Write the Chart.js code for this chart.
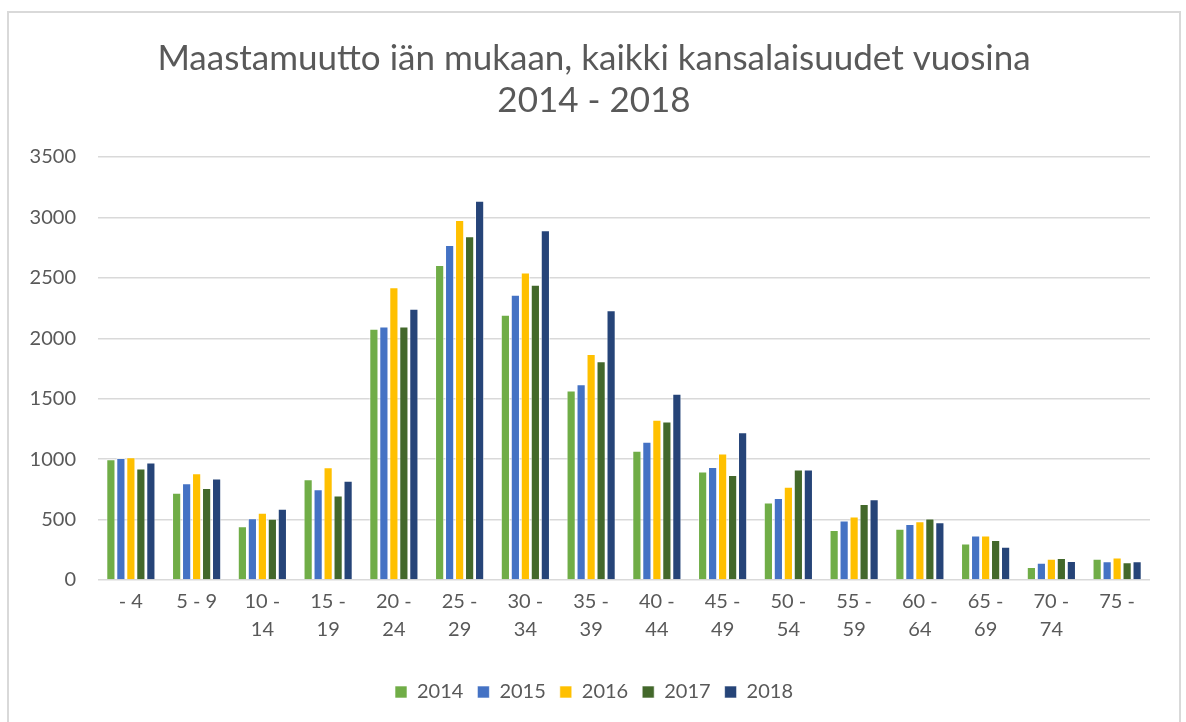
<!DOCTYPE html>
<html>
<head>
<meta charset="utf-8">
<script src="https://cdn.jsdelivr.net/npm/chart.js@4/dist/chart.umd.min.js"></script>
<style>
  body { margin: 0; background: #fff; }
  #wrap {
    position: absolute; left: 7px; top: 11px;
    width: 1174px; height: 740px;
    border: 2px solid #d9d9d9; box-sizing: border-box;
  }
  #box { position: absolute; left: 0; top: 0; width: 1170px; height: 699px; }
</style>
</head>
<body>
<div id="wrap"><div id="box"><canvas id="myChart"></canvas></div></div>
<script>
var ages = [["- 4"], ["5 - 9"], ["10 -", "14"], ["15 -", "19"], ["20 -", "24"], ["25 -", "29"],
  ["30 -", "34"], ["35 -", "39"], ["40 -", "44"], ["45 -", "49"], ["50 -", "54"], ["55 -", "59"],
  ["60 -", "64"], ["65 -", "69"], ["70 -", "74"], ["75 -"]];
var years = ["2014", "2015", "2016", "2017", "2018"];
var v2014 = [1000, 722, 444, 833, 2078, 2606, 2194, 1569, 1069, 897, 642, 414, 425, 303, 108, 175];
var v2015 = [1010, 800, 511, 750, 2097, 2772, 2361, 1620, 1144, 936, 678, 492, 464, 369, 142, 156];
var v2016 = [1015, 883, 556, 933, 2422, 2978, 2544, 1870, 1325, 1047, 772, 525, 486, 369, 175, 186];
var v2017 = [922, 761, 506, 700, 2097, 2844, 2444, 1811, 1311, 869, 915, 628, 508, 331, 181, 147];
var v2018 = [972, 839, 589, 822, 2244, 3139, 2894, 2233, 1542, 1222, 915, 669, 478, 275, 158, 156];
var barColors = ["#70ad47", "#4472c4", "#ffc000", "#43682b", "#264478"];

var series = [v2014, v2015, v2016, v2017, v2018];
var textColor = "#595959";
var font = "Lato, 'Open Sans', sans-serif";

new Chart("myChart", {
  type: "bar",
  data: {
    labels: ages,
    datasets: years.map(function (y, i) {
      return {
        label: y,
        data: series[i],
        backgroundColor: barColors[i],
        borderColor: "rgba(255,255,255,0.6)",
        borderWidth: 1,
        categoryPercentage: 0.76,
        barPercentage: 0.92
      };
    })
  },
  options: {
    responsive: true,
    maintainAspectRatio: false,
    animation: false,
    layout: { padding: { left: 10, right: 10, top: 20, bottom: 0 } },
    plugins: {
      title: {
        display: true,
        text: ["Maastamuutto iän mukaan, kaikki kansalaisuudet vuosina", "2014 - 2018"],
        color: textColor,
        font: { family: font, size: 35, weight: "normal", lineHeight: 1.2 },
        padding: { top: 5, bottom: 35 }
      },
      legend: {
        position: "bottom",
        labels: {
          color: textColor,
          font: { family: font, size: 20 },
          boxWidth: 12,
          boxHeight: 12,
          padding: 14
        }
      },
      tooltip: { enabled: false }
    },
    scales: {
      x: {
        grid: { display: false },
        border: { display: false },
        ticks: {
          color: textColor,
          font: { family: font, size: 20, lineHeight: 1.4 },
          maxRotation: 0,
          autoSkip: false,
          padding: 0
        },
        afterFit: function (s) { s.height += 24; }
      },
      y: {
        min: 0,
        max: 3500,
        grid: { color: "#d9d9d9", lineWidth: 1.5, drawTicks: false },
        border: { display: false },
        ticks: {
          stepSize: 500,
          color: textColor,
          font: { family: font, size: 20 },
          padding: 22,
          callback: function (v) { return String(v); }
        },
        afterFit: function (s) { s.width = 79; }
      },
      yr: {
        position: "right",
        display: true,
        grid: { display: false },
        border: { display: false },
        ticks: { display: false },
        afterFit: function (s) { s.width = 19; }
      }
    }
  }
});
</script>
</body>
</html>
